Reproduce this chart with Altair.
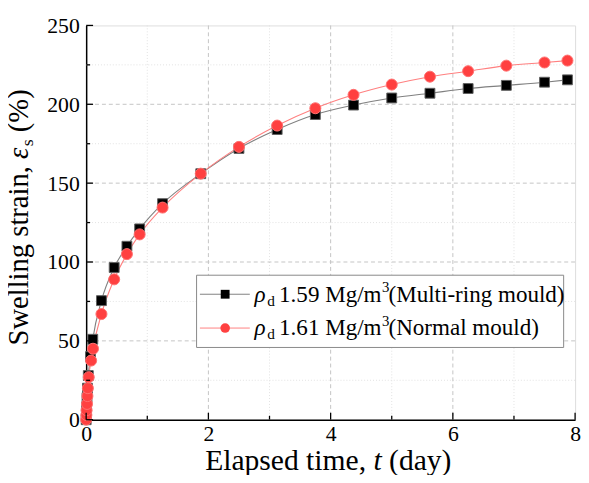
import altair as alt
import pandas as pd

# ---------------- data ----------------
t_multi = [0, 0.0035, 0.0069, 0.0139, 0.0208, 0.0347, 0.07, 0.108, 0.25, 0.4583, 0.6667,
           0.875, 1.25, 1.875, 2.5, 3.125, 3.75, 4.375, 5.0, 5.625, 6.25, 6.875, 7.5, 7.875]
s_multi = [0, 4, 8, 14, 20, 28, 40, 51, 75.5, 96.5, 110,
           121, 137, 156, 172, 184, 193.5, 199.5, 204, 207, 210, 212, 214, 215.5]

t_normal = [0, 0.0035, 0.0069, 0.0139, 0.0208, 0.0278, 0.042, 0.081, 0.112, 0.25, 0.4583, 0.6667,
            0.875, 1.25, 1.875, 2.5, 3.125, 3.75, 4.375, 5.0, 5.625, 6.25, 6.875, 7.5, 7.875]
s_normal = [0, 3, 6, 10, 15, 20, 27, 37.5, 45, 67, 89, 105,
            117.5, 134.5, 156, 173, 186.5, 197.5, 206, 212.5, 217.5, 221, 224.5, 226.5, 227.7]

series_names = ["multi", "normal"]

x_major_grid = [2, 4, 6]
x_minor_grid = [1, 3, 5, 7]
y_major_grid = [50, 100, 150, 200]
y_minor_grid = [25, 75, 125, 175, 225]
x_major_ticks = [0, 2, 4, 6, 8]
x_minor_ticks = [1, 3, 5, 7]
y_major_ticks = [0, 50, 100, 150, 200, 250]
y_minor_ticks = [25, 75, 125, 175, 225]

df = pd.concat([
    pd.DataFrame({"t": t_multi, "s": s_multi, "series": series_names[0]}),
    pd.DataFrame({"t": t_normal, "s": s_normal, "series": series_names[1]}),
])

FONT = "Liberation Serif, Times New Roman, serif"
W, H = 496, 400
xs = alt.Scale(domain=[0, 8], nice=False, zero=False)
ys = alt.Scale(domain=[0, 250], nice=False)
x_axis = alt.Axis(values=x_major_ticks, format="d", title=None, grid=False, labelFlush=False,
                  tickSize=0, labelFont=FONT, labelFontSize=22, labelColor="black",
                  labelPadding=4, domainColor="black", domainWidth=1.5)
y_axis = alt.Axis(values=y_major_ticks, format="d", title=None, grid=False, labelFlush=False,
                  tickSize=0, labelFont=FONT, labelFontSize=22, labelColor="black",
                  labelPadding=7, domainColor="black", domainWidth=1.5)
line_colors = alt.Scale(domain=series_names, range=["#808080", "#ff8080"])
dummy = pd.DataFrame({"a": [0]})

def vgrid(vals, color, dash):
    return alt.Chart(pd.DataFrame({"v": vals})).mark_rule(
        color=color, strokeDash=dash, strokeWidth=1).encode(
        x=alt.X("v:Q", scale=xs, axis=x_axis))

def hgrid(vals, color, dash):
    return alt.Chart(pd.DataFrame({"v": vals})).mark_rule(
        color=color, strokeDash=dash, strokeWidth=1).encode(
        y=alt.Y("v:Q", scale=ys, axis=y_axis))

grids = [
    vgrid(x_minor_grid, "#e2e2e2", [1, 2]),
    hgrid(y_minor_grid, "#e2e2e2", [1, 2]),
    vgrid(x_major_grid, "#c4c4c4", [4, 3]),
    hgrid(y_major_grid, "#c4c4c4", [4, 3]),
]

lines = alt.Chart(df).mark_line(interpolate="monotone", strokeWidth=1.1).encode(
    x=alt.X("t:Q", scale=xs, axis=x_axis),
    y=alt.Y("s:Q", scale=ys, axis=y_axis),
    color=alt.Color("series:N", scale=line_colors, legend=None),
    detail="series:N",
)

pts_multi = alt.Chart(df[df.series == series_names[0]]).mark_point(
    shape="square", filled=True, size=100, color="black",
    stroke="#606060", strokeWidth=1, opacity=1).encode(
    x=alt.X("t:Q", scale=xs, axis=x_axis), y=alt.Y("s:Q", scale=ys, axis=y_axis))

pts_normal = alt.Chart(df[df.series == series_names[1]]).mark_point(
    shape="circle", filled=True, size=125, color="#ff4040",
    stroke="#ff7070", strokeWidth=1, opacity=1).encode(
    x=alt.X("t:Q", scale=xs, axis=x_axis), y=alt.Y("s:Q", scale=ys, axis=y_axis))

def xticks(vals, length):
    return alt.Chart(pd.DataFrame({"v": vals})).mark_rule(color="black", strokeWidth=1.3).encode(
        x=alt.X("v:Q", scale=xs, axis=x_axis), y=alt.value(H), y2=alt.value(H - length))

def yticks(vals, length):
    return alt.Chart(pd.DataFrame({"v": vals})).mark_rule(color="black", strokeWidth=1.3).encode(
        y=alt.Y("v:Q", scale=ys, axis=y_axis), x=alt.value(0), x2=alt.value(length))

ticks = [xticks(x_major_ticks, 7), xticks(x_minor_ticks, 4),
         yticks(y_major_ticks, 7), yticks(y_minor_ticks, 4)]

# ---------------- legend ----------------
LX0, LX1, LY0, LY1 = 112, 484.4, 253.4, 326.7
rows = [272.7, 307.0]
box = alt.Chart(dummy).mark_rect(fill="white", stroke="#888888", strokeWidth=1).encode(
    x=alt.value(LX0), x2=alt.value(LX1), y=alt.value(LY0), y2=alt.value(LY1))

leg = [box]
leg_line_cols = ["#808080", "#ff8080"]
for i, ry in enumerate(rows):
    leg.append(alt.Chart(dummy).mark_rule(color=leg_line_cols[i], strokeWidth=1).encode(
        x=alt.value(115.4), x2=alt.value(166), y=alt.value(ry)))
leg.append(alt.Chart(dummy).mark_point(shape="square", filled=True, size=80, color="black",
                                       opacity=1).encode(x=alt.value(141), y=alt.value(rows[0])))
leg.append(alt.Chart(dummy).mark_point(shape="circle", filled=True, size=95, color="#ff4040",
                                       opacity=1).encode(x=alt.value(141), y=alt.value(rows[1])))

leg_values = ["1.59 Mg/m", "1.61 Mg/m"]
leg_notes = ["(Multi-ring mould)", "(Normal mould)"]
TX = 170.7

def txt(s, base_y, dx, dy=0, size=23.4, style="normal"):
    return alt.Chart(dummy).mark_text(
        text=s, align="left", baseline="alphabetic", font=FONT, fontSize=size,
        fontStyle=style, dx=dx, dy=dy, color="black").encode(
        x=alt.value(TX), y=alt.value(base_y))

for i, ry in enumerate(rows):
    by = ry + 7.5
    leg += [txt("ρ", by, 0, style="italic"), txt("d", by, 13, 4, 15.5), txt(leg_values[i], by, 25),
            txt("3", by, 129.5, -10, 15), txt(leg_notes[i], by, 136, size=23.4)]

# ---------------- axis titles ----------------
def xt(s, dx, style="normal"):
    return alt.Chart(dummy).mark_text(
        text=s, align="left", baseline="alphabetic", font=FONT, fontSize=30,
        fontStyle=style, dx=dx, color="black").encode(
        x=alt.value(120.7), y=alt.value(450.7))

x_title = [xt("Elapsed time,", 0), xt("t", 170.8, "italic"), xt("(day)", 186.6)]

YS = 29
def yt(s, dx, dy=0, size=YS, style="normal"):
    return alt.Chart(dummy).mark_text(
        text=s, align="left", baseline="alphabetic", font=FONT, fontSize=size, angle=270,
        fontStyle=style, dx=dx, dy=dy, color="black").encode(
        x=alt.value(-58.8), y=alt.value(324.7))

y_title = [yt("Swelling strain,", 0), yt("ε", 189.3, style="italic"),
           yt("s", 202.1, 5, 18), yt("(%)", 216.4)]

chart = alt.layer(*grids, lines, pts_multi, pts_normal, *ticks, *leg, *x_title, *y_title).properties(
    width=W, height=H,
    padding={"left": 79.3, "top": 14.3, "right": 6, "bottom": 53},
    autosize="none",
).configure_view(stroke=None).configure(
    background="white", font=FONT
).configure_axis(labelFont=FONT, labelFontSize=22, labelColor="black")

chart.save("out.html", embed_options={"renderer": "svg", "actions": False})
